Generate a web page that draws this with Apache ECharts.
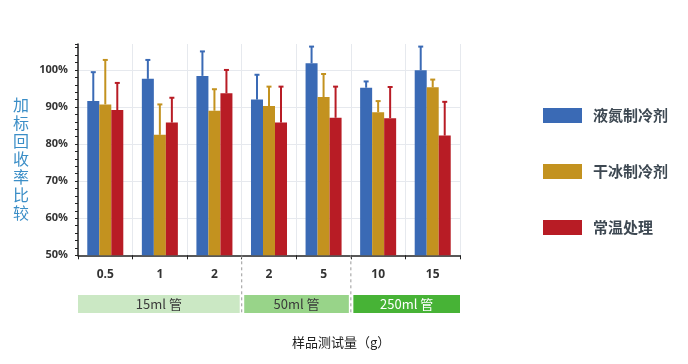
<!DOCTYPE html>
<html><head><meta charset="utf-8">
<script src="https://cdn.jsdelivr.net/npm/echarts@6/dist/echarts.min.js"></script>
<style>html,body{margin:0;padding:0;background:#fff}#c{width:688px;height:364px}</style>
</head><body><div id="c"></div>
<script>
var categories = ['0.5', '1', '2', '2', '5', '10', '15'];
var seriesNames = ['液氮制冷剂', '干冰制冷剂', '常温处理'];
var liquidN2 = [91.6, 97.6, 98.4, 92.0, 101.8, 95.2, 99.9];
var liquidN2High = [99.4, 102.7, 105.0, 98.7, 106.3, 96.9, 106.3];
var dryIce = [90.7, 82.5, 89.0, 90.3, 92.7, 88.6, 95.3];
var dryIceHigh = [102.7, 90.7, 94.8, 95.5, 98.9, 91.6, 97.4];
var roomTemp = [89.2, 85.8, 93.7, 85.8, 87.1, 87.0, 82.3];
var roomTempHigh = [96.5, 92.5, 100.0, 95.5, 95.5, 95.4, 91.4];
var groupLabels = ['15ml 管', '50ml 管', '250ml 管'];
var groupStart = [0, 3, 5];
var groupEnd = [2, 4, 6];
var groupDividers = [3, 5];
var yTitle = '加标回收率比较';
var xTitle = '样品测试量（g）';

var colors = ['#3a6ab5', '#c3921f', '#b81c25'];
var bandColors = ['#cbe8c4', '#98d489', '#47b336'];
var bandText = ['#3a3a3a', '#3a3a3a', '#ffffff'];
var catGap = 0.34;
var values = [liquidN2, dryIce, roomTemp];
var highs = [liquidN2High, dryIceHigh, roomTempHigh];

var chart = echarts.init(document.getElementById('c'));
var series = [];
values.forEach(function (v, k) {
  series.push({
    name: seriesNames[k], type: 'bar', data: v,
    barGap: '0%', barCategoryGap: (catGap * 100) + '%',
    itemStyle: { color: colors[k] }, z: 2
  });
});
values.forEach(function (v, k) {
  series.push({
    type: 'custom', z: 3, silent: true,
    data: v.map(function (val, i) { return [i, val, highs[k][i]]; }),
    renderItem: function (params, api) {
      var bw = api.size([1, 0])[0];
      var barW = bw * (1 - catGap) / 3;
      var cx = api.coord([api.value(0), 50])[0] + (k - 1) * barW;
      var yBar = api.coord([0, api.value(1)])[1];
      var yTop = api.coord([0, api.value(2)])[1];
      var st = { stroke: colors[k], lineWidth: 2 };
      return { type: 'group', children: [
        { type: 'line', shape: { x1: cx, y1: yBar, x2: cx, y2: yTop }, style: st },
        { type: 'line', shape: { x1: cx - 2.5, y1: yTop, x2: cx + 2.5, y2: yTop }, style: st }
      ]};
    }
  });
});
series.push({
  type: 'custom', xAxisIndex: 1, yAxisIndex: 2, silent: true,
  data: groupStart.map(function (s, i) { return [s, groupEnd[i], i]; }),
  renderItem: function (params, api) {
    var cs = params.coordSys;
    var bw = api.size([1, 0])[0];
    var i = api.value(2);
    var x0 = api.coord([api.value(0), 0])[0] - bw / 2 + (i > 0 ? 2.5 : 0);
    var x1 = api.coord([api.value(1), 0])[0] + bw / 2 - (i < groupLabels.length - 1 ? 2 : 0);
    var yb = cs.y + cs.height;
    return { type: 'group', children: [
      { type: 'rect', shape: { x: x0, y: yb - 18, width: x1 - x0, height: 18 }, style: { fill: bandColors[i] } },
      { type: 'text', x: (x0 + x1) / 2, y: yb - 9, style: { text: groupLabels[i], fill: bandText[i], fontSize: 13, fontFamily: 'Noto Sans CJK SC', align: 'center', verticalAlign: 'middle' } }
    ]};
  }
});
series.push({
  type: 'custom', xAxisIndex: 1, yAxisIndex: 2, silent: true,
  data: groupDividers.map(function (d) { return [d]; }),
  renderItem: function (params, api) {
    var cs = params.coordSys;
    var x = api.coord([api.value(0), 0])[0] - api.size([1, 0])[0] / 2;
    return { type: 'line', shape: { x1: x, y1: cs.y, x2: x, y2: cs.y + cs.height }, style: { stroke: '#9a9a9a', lineWidth: 1, lineDash: [3, 3] } };
  }
});

chart.setOption({
  animation: false,
  title: [
    { text: yTitle.split('').join('\n'), left: 13, top: 96, padding: 0, textStyle: { fontSize: 16, lineHeight: 18, color: '#3b8ec7', fontWeight: 'normal', fontFamily: 'Noto Sans CJK SC' } },
    { text: xTitle, left: 292, top: 336, padding: 0, textStyle: { fontSize: 13, color: '#222', fontWeight: 'normal', fontFamily: 'Noto Sans CJK SC' } }
  ],
  legend: {
    data: seriesNames, orient: 'vertical', left: 543, top: 108, padding: 0,
    itemWidth: 39, itemHeight: 15, itemGap: 41, icon: 'rect',
    textStyle: { fontSize: 15, lineHeight: 15, color: '#3d4852', fontWeight: 'bold', fontFamily: 'Noto Sans CJK SC', padding: [0, 0, 0, 6] }
  },
  grid: [
    { left: 78, right: 228, top: 44, bottom: 108.7 },
    { left: 78, right: 228, top: 255.3, bottom: 51 }
  ],
  xAxis: [
    { type: 'category', data: categories, gridIndex: 0,
      axisLine: { lineStyle: { color: '#222', width: 1.5 } },
      axisTick: { show: true, length: 4, lineStyle: { color: '#222' } },
      axisLabel: { margin: 13, fontSize: 12, fontWeight: 'bold', color: '#333', fontFamily: 'Open Sans' },
      splitLine: { show: true, lineStyle: { color: '#e6e9ee' } } },
    { type: 'category', data: categories, gridIndex: 1, show: false }
  ],
  yAxis: [
    { type: 'value', min: 50, max: 107, interval: 2, gridIndex: 0,
      axisLine: { show: true, lineStyle: { color: '#222', width: 1.5 } },
      axisTick: { show: true, length: 3, lineStyle: { color: '#222' } },
      axisLabel: { margin: 10, fontSize: 11, fontWeight: 'bold', color: '#333', fontFamily: 'Open Sans',
        formatter: function (v) { var r = Math.round(v); return (r % 10 === 0 && r <= 100) ? r + '%' : ''; } },
      splitLine: { show: false } },
    { type: 'value', min: 50, max: 107, interval: 10, gridIndex: 0,
      axisLine: { show: false }, axisTick: { show: false }, axisLabel: { show: false },
      splitLine: { show: true, showMinLine: false, showMaxLine: false, lineStyle: { color: '#e6e9ee' } } },
    { type: 'value', min: 0, max: 1, gridIndex: 1, show: false, splitLine: { show: false } }
  ],
  series: series
});
</script></body></html>
